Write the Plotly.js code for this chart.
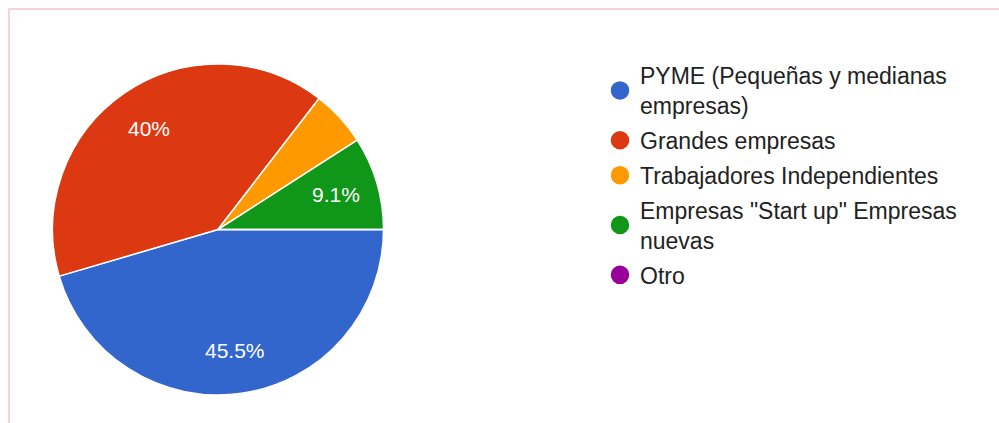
<!DOCTYPE html>
<html><head><meta charset="utf-8">
<script src="https://cdn.plot.ly/plotly-3.0.1.min.js"></script>
<style>html,body{margin:0;padding:0;background:#fff;overflow:hidden;}</style>
</head><body><div id="chart" style="width:999px;height:423px;"></div>
<script>
// ---- data ----
const categories = ['PYME (Pequeñas y medianas empresas)', 'Grandes empresas', 'Trabajadores Independientes', 'Empresas "Start up" Empresas nuevas', 'Otro'];
const legendLabels = ['PYME (Pequeñas y medianas<br>empresas)', 'Grandes empresas', 'Trabajadores Independientes', 'Empresas "Start up" Empresas<br>nuevas', 'Otro'];
const responses = [25, 22, 3, 5, 0];
const sliceColors = ['#3366cc', '#dc3912', '#ff9900', '#109618', '#990099'];

// ---- layout geometry ----
const W = 999, H = 423;
const cx = 218, cy = 229.5, R = 165.5;
const rotationDeg = 90;
const labelRadius = 0.74;
const minLabelFrac = 0.07;

const total = responses.reduce((a, b) => a + b, 0);
const pctText = responses.map(v => {
  const p = Math.round(v / total * 1000) / 10;
  return (p % 1 === 0 ? p.toFixed(0) : p.toFixed(1)) + '%';
});

const pie = {
  type: 'pie',
  values: responses,
  labels: categories,
  sort: false,
  direction: 'clockwise',
  rotation: rotationDeg,
  marker: {colors: sliceColors, line: {color: '#ffffff', width: 1.5}},
  textinfo: 'none',
  showlegend: false,
  hovertemplate: '%{label}<br>%{value} (%{text})<extra></extra>',
  text: pctText,
  domain: {x: [(cx - R) / W, (cx + R) / W], y: [(H - cy - R) / H, (H - cy + R) / H]}
};

const legendTraces = categories.map((c, i) => ({
  type: 'scatter', mode: 'markers', x: [null], y: [null],
  name: legendLabels[i], legendgroup: 'g' + i,
  marker: {symbol: 'circle', size: 16, color: sliceColors[i], line: {color: sliceColors[i], width: 2.5}},
  showlegend: true, hoverinfo: 'skip'
}));

// percent labels along each slice's bisector
const annotations = [];
let acc = 0;
responses.forEach((v, i) => {
  const frac = v / total;
  const mid = (rotationDeg * Math.PI / 180) + 2 * Math.PI * (acc + frac / 2);
  acc += frac;
  if (frac < minLabelFrac) return;
  const px = cx + labelRadius * R * Math.sin(mid);
  const py = cy - labelRadius * R * Math.cos(mid);
  annotations.push({
    x: px / W, y: 1 - py / H, xref: 'paper', yref: 'paper',
    text: pctText[i], showarrow: false,
    font: {family: 'Arial, Liberation Sans, sans-serif', size: 21, color: '#ffffff'},
    xanchor: 'center', yanchor: 'middle'
  });
});

const borderColor = '#fcd3d3';
const layout = {
  width: W, height: H,
  margin: {l: 0, r: 0, t: 0, b: 0},
  paper_bgcolor: '#ffffff', plot_bgcolor: '#ffffff',
  xaxis: {visible: false, range: [0, 1], domain: [0.99, 1]},
  yaxis: {visible: false, range: [0, 1], domain: [0.99, 1]},
  showlegend: true,
  legend: {
    x: 600 / W, xanchor: 'left', y: 1 - 54 / H, yanchor: 'top',
    bgcolor: 'rgba(0,0,0,0)',
    font: {family: 'Arial, Liberation Sans, sans-serif', size: 23, color: '#222222'},
    itemsizing: 'trace', tracegroupgap: 2
  },
  annotations: annotations,
  shapes: [
    {type: 'line', xref: 'paper', yref: 'paper', x0: 8 / W, x1: 1, y0: 1 - 9 / H, y1: 1 - 9 / H, line: {color: borderColor, width: 2}},
    {type: 'line', xref: 'paper', yref: 'paper', x0: 9 / W, x1: 9 / W, y0: 0, y1: 1 - 8 / H, line: {color: borderColor, width: 2}}
  ]
};

Plotly.newPlot('chart', [pie].concat(legendTraces), layout, {displayModeBar: false, responsive: false});
</script>
</body></html>
